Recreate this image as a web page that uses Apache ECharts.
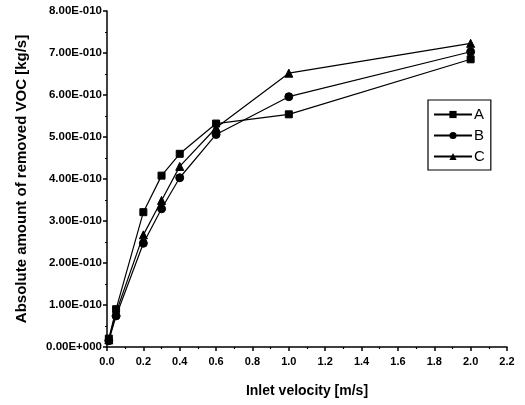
<!DOCTYPE html>
<html>
<head>
<meta charset="utf-8">
<script src="https://cdn.jsdelivr.net/npm/echarts@6/dist/echarts.min.js"></script>
<style>
  html, body { margin: 0; padding: 0; background: #fff; }
  #chart { width: 525px; height: 405px; }
</style>
</head>
<body>
<div id="chart"></div>
<script>
// inlet velocity [m/s]
const velocity = [0.01, 0.05, 0.2, 0.3, 0.4, 0.6, 1.0, 2.0]
// removed VOC, in units of 1E-010 kg/s
const removedA = [0.20, 0.90, 3.21, 4.08, 4.60, 5.32, 5.54, 6.85]
const removedB = [0.15, 0.74, 2.47, 3.29, 4.03, 5.06, 5.96, 7.03]
const removedC = [0.17, 0.82, 2.67, 3.49, 4.30, 5.22, 6.52, 7.23]
const seriesNames = ['A', 'B', 'C']
const symbols = ['rect', 'circle', 'triangle']
const symbolSizes = [7, 8, 8]

const font = 'Liberation Sans, Arial, sans-serif'

function pairs(ys) {
  return velocity.map((x, i) => [x, ys[i]])
}

function fmtY(v) {
  if (v === 0) return '0.00E+000'
  return v.toFixed(2) + 'E-010'
}

const chart = echarts.init(document.getElementById('chart'))
chart.setOption({
  animation: false,
  backgroundColor: '#fff',
  grid: {
    left: 107,
    right: 18,
    top: 11,
    bottom: 58
  },
  legend: {
    orient: 'vertical',
    left: 428,
    top: 100,
    itemWidth: 38,
    itemHeight: 9,
    itemGap: 6,
    padding: [7, 6, 6, 5],
    borderColor: '#000',
    borderWidth: 1.2,
    textStyle: { fontFamily: font, fontSize: 15, color: '#000', padding: [0, 0, 0, -3] },
    data: seriesNames
  },
  xAxis: {
    type: 'value',
    min: 0,
    max: 2.2,
    interval: 0.2,
    name: 'Inlet velocity [m/s]',
    nameLocation: 'middle',
    nameGap: 37,
    nameTextStyle: { fontFamily: font, fontSize: 14, fontWeight: 'bold', color: '#000' },
    axisLine: { lineStyle: { color: '#000', width: 1.5 } },
    axisTick: { length: 4, lineStyle: { color: '#000', width: 1.5 } },
    minorTick: { show: true, splitNumber: 2, length: 2, lineStyle: { color: '#000', width: 1.2 } },
    axisLabel: {
      fontFamily: font, fontSize: 11, fontWeight: 'bold', color: '#000', margin: 9,
      formatter: v => v.toFixed(1)
    },
    splitLine: { show: false }
  },
  yAxis: {
    type: 'value',
    min: 0,
    max: 8,
    interval: 1,
    name: 'Absolute amount of removed VOC [kg/s]',
    nameLocation: 'middle',
    nameGap: 78,
    nameTextStyle: { fontFamily: font, fontSize: 15, fontWeight: 'bold', color: '#000' },
    axisLine: { show: true, lineStyle: { color: '#000', width: 1.5 } },
    axisTick: { show: true, length: 4, lineStyle: { color: '#000', width: 1.5 } },
    minorTick: { show: true, splitNumber: 2, length: 2, lineStyle: { color: '#000', width: 1.2 } },
    axisLabel: {
      fontFamily: font, fontSize: 11.5, fontWeight: 'bold', color: '#000', margin: 5,
      formatter: fmtY
    },
    splitLine: { show: false }
  },
  series: [removedA, removedB, removedC].map((ys, i) => ({
    name: seriesNames[i],
    type: 'line',
    data: pairs(ys),
    symbol: symbols[i],
    symbolSize: symbolSizes[i],
    showAllSymbol: true,
    lineStyle: { color: '#000', width: 1.2 },
    itemStyle: { color: '#000', borderColor: '#000' }
  }))
})
</script>
</body>
</html>
